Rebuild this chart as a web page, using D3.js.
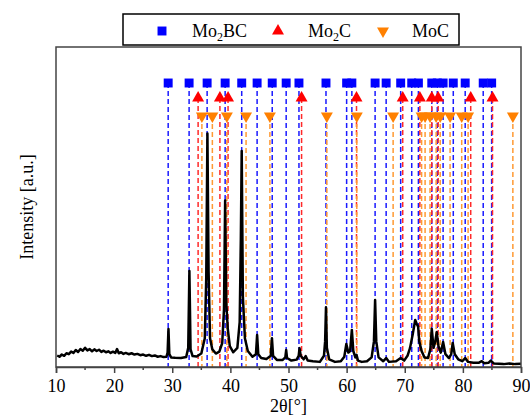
<!DOCTYPE html>
<html>
<head>
<meta charset="utf-8">
<script src="https://cdn.jsdelivr.net/npm/d3@7"></script>
<style>
  body { margin: 0; background: #fff; }
  text { font-family: "Liberation Serif", "DejaVu Serif", serif; fill: #000; }
</style>
</head>
<body>
<svg id="chart"></svg>
<script>
// reference peak positions (2theta) for each phase
const mo2bcPeaks = [29.3, 32.9, 36.0, 39.1, 41.95, 44.6, 47.2, 49.6, 51.8, 56.45, 60.0, 60.9,
    64.9, 66.8, 69.3, 71.2, 72.35, 74.65, 75.6, 76.6, 78.35, 80.4, 83.5, 84.95];
const mo2cPeaks = [34.45, 38.2, 39.6, 52.25, 61.7, 69.65, 72.6, 74.65, 75.75, 81.35, 85.1];
const mocPeaks = [35.1, 36.9, 39.4, 42.7, 46.8, 56.6, 61.75, 68.0, 72.9, 73.5, 74.35, 75.4,
    76.1, 77.8, 79.8, 80.9, 88.6];

// measured pattern
const twoTheta = [10.2, 10.6, 11, 11.4, 11.8, 12.2, 12.6, 13, 13.4, 13.8, 14.2, 14.6, 15, 15.4, 15.8,
    16.2, 16.6, 17, 17.4, 17.8, 18.2, 18.6, 19, 19.4, 19.8, 20.2, 20.5, 20.8, 21.2, 21.6, 22, 22.5,
    23, 23.5, 24, 24.5, 25, 25.5, 26, 26.5, 27, 27.5, 28, 28.5, 29.0, 29.2, 29.35, 29.5, 29.8, 30.5,
    31.5, 32.4, 32.75, 32.95, 33.15, 33.5, 34.2, 35.0, 35.6, 35.85, 36.05, 36.25, 36.5, 36.9, 37.5,
    38.1, 38.6, 38.9, 39.1, 39.3, 39.55, 39.9, 40.5, 41.2, 41.6, 41.8, 41.95, 42.15, 42.5, 43.0,
    43.8, 44.4, 44.6, 44.8, 45.3, 46.2, 46.95, 47.15, 47.35, 48.0, 49.0, 49.45, 49.6, 49.75, 50.5,
    51.4, 51.75, 51.9, 52.1, 52.6, 52.95, 53.3, 54.2, 55.4, 56.1, 56.3, 56.45, 56.6, 57.0, 58.0,
    59.0, 59.6, 59.95, 60.3, 60.6, 60.9, 61.15, 61.5, 61.7, 61.95, 62.6, 63.5, 64.3, 64.7, 64.9,
    65.1, 65.5, 66.3, 66.8, 67.3, 68.5, 69.3, 69.9, 70.5, 70.9, 71.4, 71.8, 72.05, 72.3, 72.5,
    72.9, 73.4, 74.0, 74.4, 74.65, 74.95, 75.25, 75.5, 75.8, 76.2, 76.6, 77.0, 77.6, 78.0, 78.25,
    78.6, 79.2, 79.9, 80.4, 80.9, 81.8, 82.7, 83.25, 83.7, 84.4, 84.8, 85.3, 86.2, 87.0, 88.0,
    89.0, 90.0];
const intensity = [3.6, 3.2, 3.9, 3.5, 4.3, 4.0, 4.8, 4.4, 5.3, 4.7, 5.6, 5.1, 6.0, 5.2, 5.6,
    4.9, 5.5, 5.0, 5.4, 4.7, 5.1, 4.6, 4.9, 4.4, 4.8, 4.4, 5.6, 4.3, 4.6, 4.1, 4.4, 4.0,
    4.3, 3.9, 4.1, 3.7, 3.9, 3.5, 3.8, 3.4, 3.6, 3.2, 3.4, 3.1, 3.2, 4.5, 11.9, 4.0, 3.0, 2.9,
    2.8, 3.1, 6.0, 30.0, 5.5, 3.4, 3.3, 4.2, 9.0, 28.0, 73.0, 30.0, 9.0, 5.5, 4.2,
    4.8, 7.5, 18.0, 52.0, 20.0, 12.0, 6.5, 4.6, 6.0, 14.0, 40.0, 67.5, 22.0, 9.0, 5.0,
    3.2, 4.0, 10.0, 4.0, 2.8, 2.5, 3.5, 9.0, 3.5, 2.2, 2.2, 3.0, 5.3, 2.8, 2.0,
    2.3, 3.5, 5.9, 3.5, 2.4, 3.4, 2.0, 1.8, 1.6, 3.5, 8.0, 18.7, 6.0, 2.4, 1.6,
    1.8, 3.2, 7.2, 4.5, 5.0, 11.6, 5.0, 3.0, 3.8, 2.0, 1.6, 1.8, 3.0, 8.0, 20.9,
    8.0, 3.0, 1.8, 2.8, 1.6, 1.8, 2.8, 2.0, 3.6, 5.9, 10.5, 14.7, 13.5, 12.6, 8.0,
    5.0, 3.0, 2.8, 5.5, 11.9, 6.0, 8.0, 10.9, 6.5, 4.5, 7.8, 4.0, 2.8, 4.0, 7.5,
    4.0, 2.4, 1.8, 2.8, 1.6, 1.3, 1.3, 1.8, 1.2, 1.3, 2.0, 1.1, 1.0, 0.9, 1.1,
    0.9, 1.0];

const xTicks = [10, 20, 30, 40, 50, 60, 70, 80, 90];
const xMinorTicks = [15, 25, 35, 45, 55, 65, 75, 85];

const phases = [
    { name: "Mo2BC", label: ["Mo", "2", "BC"], peaks: mo2bcPeaks, color: "#0000ff", dash: "#1a1aff", shape: "square", row: 83 },
    { name: "Mo2C", label: ["Mo", "2", "C"], peaks: mo2cPeaks, color: "#ff0000", dash: "#ff2a2a", shape: "up", row: 98 },
    { name: "MoC", label: ["MoC", "", ""], peaks: mocPeaks, color: "#ff8000", dash: "#ff9a33", shape: "down", row: 116 }
];

const width = 530, height = 419;
const margin = { top: 47, right: 9, bottom: 52, left: 56 };
const innerW = width - margin.left - margin.right;
const innerH = height - margin.top - margin.bottom;

const svg = d3.select("#chart").attr("width", width).attr("height", height);

const x = d3.scaleLinear().domain([10, 90]).range([margin.left, margin.left + innerW]);
const y = d3.scaleLinear().domain([0, 100]).range([margin.top + innerH, margin.top]);

function symbolPath(shape) {
    if (shape === "square") return d3.symbol().type(d3.symbolSquare).size(80)();
    return d3.symbol().type(d3.symbolTriangle).size(62)();
}

// dashed reference lines
const refs = svg.append("g");
phases.forEach(p => {
    refs.selectAll(null)
        .data(p.peaks)
        .join("line")
        .attr("x1", d => x(d)).attr("x2", d => x(d))
        .attr("y1", p.row).attr("y2", y(0))
        .attr("stroke", p.dash)
        .attr("stroke-width", 1.5)
        .attr("stroke-dasharray", "5,3");
});

// pattern
const line = d3.line().x((d, i) => x(twoTheta[i])).y(d => y(d));
svg.append("path")
    .datum(intensity)
    .attr("d", line)
    .attr("fill", "none")
    .attr("stroke", "#000")
    .attr("stroke-width", 2.5)
    .attr("stroke-linejoin", "round");

// markers
phases.forEach(p => {
    svg.append("g").selectAll("path")
        .data(p.peaks)
        .join("path")
        .attr("d", symbolPath(p.shape))
        .attr("transform", d => `translate(${x(d)},${p.row})` + (p.shape === "down" ? " rotate(180)" : ""))
        .attr("fill", p.color);
});

// frame
svg.append("rect")
    .attr("x", margin.left).attr("y", margin.top)
    .attr("width", innerW).attr("height", innerH)
    .attr("fill", "none").attr("stroke", "#444").attr("stroke-width", 1.5);

const xAxis = svg.append("g")
    .attr("transform", `translate(0,${margin.top + innerH})`)
    .call(d3.axisBottom(x).tickValues(xTicks).tickSize(6).tickFormat(d3.format("d")));
xAxis.select(".domain").attr("stroke", "#444").attr("stroke-width", 1.5);
xAxis.selectAll(".tick line").attr("stroke", "#444").attr("stroke-width", 1.5);
xAxis.selectAll(".tick text").attr("font-size", 18).attr("dy", "0.9em")
    .style("font-family", "'Liberation Serif', serif");

svg.append("g").selectAll("line")
    .data(xMinorTicks)
    .join("line")
    .attr("x1", d => x(d)).attr("x2", d => x(d))
    .attr("y1", margin.top + innerH).attr("y2", margin.top + innerH + 3)
    .attr("stroke", "#444").attr("stroke-width", 1.5);

svg.append("text")
    .attr("x", x(50)).attr("y", 412)
    .attr("text-anchor", "middle")
    .attr("font-size", 18)
    .text("2θ[°]");

svg.append("text")
    .attr("transform", `translate(33,${margin.top + innerH / 2}) rotate(-90)`)
    .attr("text-anchor", "middle")
    .attr("font-size", 18)
    .text("Intensity [a.u.]");

// legend
const legend = svg.append("g");
legend.append("rect")
    .attr("x", 123).attr("y", 14).attr("width", 336).attr("height", 31)
    .attr("fill", "#fff").attr("stroke", "#000").attr("stroke-width", 1.5);

const legendX = [162, 278, 383];
phases.forEach((p, i) => {
    legend.append("path")
        .attr("d", symbolPath(p.shape))
        .attr("transform", `translate(${legendX[i]},31)` + (p.shape === "down" ? " rotate(180)" : ""))
        .attr("fill", p.color);
    const t = legend.append("text")
        .attr("x", legendX[i] + (i === 2 ? 29 : 30)).attr("y", 37)
        .attr("font-size", 18);
    t.append("tspan").text(p.label[0]);
    if (p.label[1]) {
        t.append("tspan").attr("font-size", 12).attr("dy", 4).text(p.label[1]);
        t.append("tspan").attr("dy", -4).text(p.label[2]);
    }
});
</script>
</body>
</html>
